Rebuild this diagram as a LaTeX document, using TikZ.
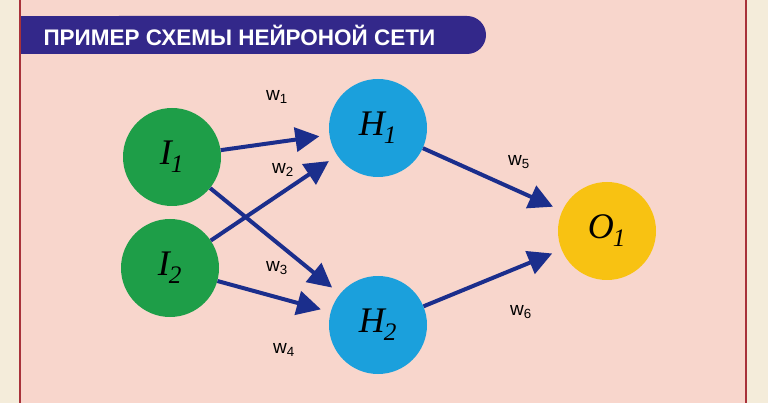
\documentclass[tikz,border=0pt]{standalone}
\usepackage{fontspec}
\setmainfont{Liberation Sans}
\newfontfamily\serifit{Liberation Serif}
\usetikzlibrary{arrows.meta}
\definecolor{bg}{HTML}{F8D6CC}
\definecolor{cream}{HTML}{F4ECDA}
\definecolor{border}{HTML}{A8323A}
\definecolor{banner}{HTML}{33288A}
\definecolor{ngreen}{HTML}{1E9E48}
\definecolor{nblue}{HTML}{1BA0DC}
\definecolor{nyellow}{HTML}{F8C212}
\definecolor{arr}{HTML}{1B2E8C}
\newcommand{\nlab}[2]{{\serifit\itshape #1\textsubscript{\kern-1pt#2}}}
\begin{document}
\begin{tikzpicture}[x=1pt,y=-1pt,
  neuron/.style={circle,minimum size=98pt,inner sep=0pt,font=\fontsize{36}{36}\selectfont},
  link/.style={draw=arr,line width=4pt,-{Triangle[length=24pt,width=24pt]},shorten >=10pt},
  wlab/.style={font=\fontsize{19}{19}\selectfont,text=black}]
\useasboundingbox (0,0) rectangle (768,403);
\fill[cream] (0,0) rectangle (768,403);
\fill[bg] (20,0) rectangle (746,403);
\draw[border,line width=2pt] (20,0) -- (20,403) (746,0) -- (746,403);
\fill[banner,rounded corners=19pt] (100,16) rectangle (486,54);
\fill[banner] (21,16) rectangle (120,54);
\node[anchor=west,text=white,font=\bfseries\fontsize{22.5}{22.5}\selectfont] (title) at (40,35) {ПРИМЕР СХЕМЫ НЕЙРОНОЙ СЕТИ};
\node[neuron,fill=ngreen] (I1) at (172,157) {\nlab{I}{1}};
\node[neuron,fill=ngreen] (I2) at (170,268) {\nlab{I}{2}};
\node[neuron,fill=nblue] (H1) at (378,128) {\nlab{H}{1}};
\node[neuron,fill=nblue] (H2) at (378,325) {\nlab{H}{2}};
\node[neuron,fill=nyellow] (O1) at (607,231) {\nlab{O}{1}};
\draw[link] (I1) -- (H1);
\draw[link] (I1) -- (H2);
\draw[link] (I2) -- (H1);
\draw[link] (I2) -- (H2);
\draw[link] (H1) -- (O1);
\draw[link] (H2) -- (O1);
\node[wlab] (w1) at (277,97) {w\textsubscript{1}};
\node[wlab] (w2) at (283,170) {w\textsubscript{2}};
\node[wlab] (w3) at (277,268) {w\textsubscript{3}};
\node[wlab] (w4) at (284,350) {w\textsubscript{4}};
\node[wlab] (w5) at (519,162) {w\textsubscript{5}};
\node[wlab] (w6) at (521,312) {w\textsubscript{6}};
\end{tikzpicture}
\end{document}
